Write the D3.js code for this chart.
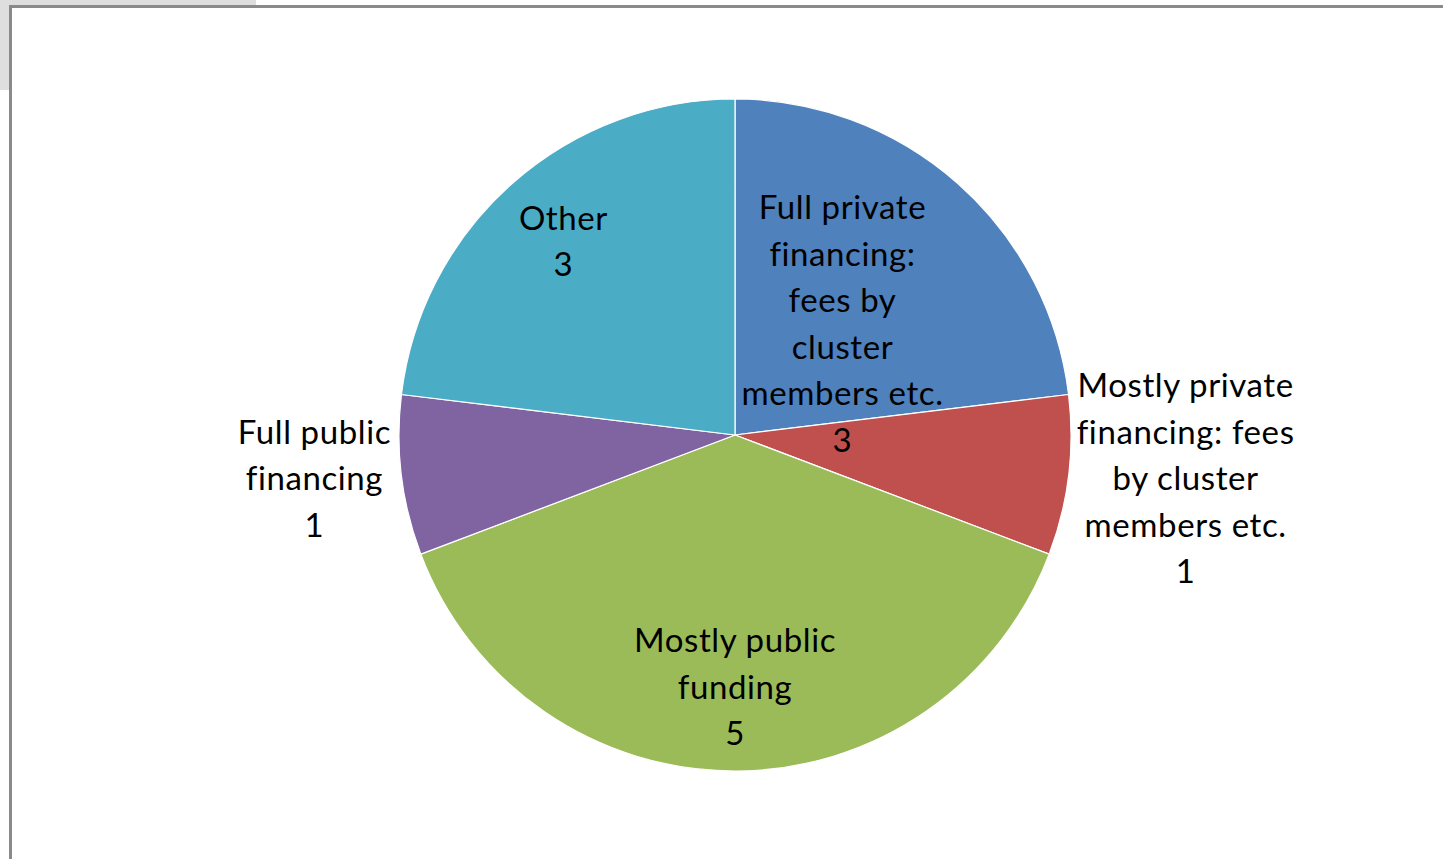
<!DOCTYPE html>
<html><head><meta charset="utf-8">
<script src="https://cdn.jsdelivr.net/npm/d3@7"></script>
<style>
html,body{margin:0;padding:0;background:#fff;overflow:hidden;}
svg{display:block;}
text{font-family:Lato,"Open Sans",sans-serif;fill:#000;}
</style></head>
<body>
<script>
// Data
const categories = [
  "Full private financing: fees by cluster members etc.",
  "Mostly private financing: fees by cluster members etc.",
  "Mostly public funding",
  "Full public financing",
  "Other"
];
const values = [3, 1, 5, 1, 3];
const labelLines = [
  ["Full private", "financing:", "fees by", "cluster", "members etc."],
  ["Mostly private", "financing: fees", "by cluster", "members etc."],
  ["Mostly public", "funding"],
  ["Full public", "financing"],
  ["Other"]
];
const colors = ["#4F81BD", "#C0504D", "#9BBB59", "#8064A2", "#4BACC6"];

// Layout config
const W = 1443, H = 859;
const cx = 735, cy = 435, R = 336;
const labelRadiusFactor = [0.46, 1.345, 0.75, 1.255, 0.77];
const labelNudge = [[5, 4.5], [2, -11], [0, 0], [-2, -7], [0, 0]];
const fontSize = 33, lineH = 46.5;

const svg = d3.select("body").append("svg").attr("width", W).attr("height", H);

// background frame
svg.append("rect").attr("x", 0).attr("y", 0).attr("width", 256).attr("height", 90).attr("fill", "#dedede");
svg.append("rect").attr("x", 10.5).attr("y", 6.5).attr("width", W).attr("height", H)
  .attr("fill", "#fff").attr("stroke", "#8a8a8a").attr("stroke-width", 3);

const data = categories.map((c, i) => ({name: c, value: values[i], lines: labelLines[i], color: colors[i], i}));

const pie = d3.pie().value(d => d.value).sort(null);
const arcs = pie(data);
const arc = d3.arc().innerRadius(0).outerRadius(R);

const g = svg.append("g").attr("transform", `translate(${cx},${cy})`);
g.selectAll("path.slice").data(arcs).join("path")
  .attr("class", "slice")
  .attr("d", arc)
  .attr("fill", d => d.data.color)
  .attr("stroke", "#fff").attr("stroke-width", 1.2).attr("stroke-linejoin", "round");

g.selectAll("text.lbl").data(arcs).join("text")
  .attr("class", "lbl")
  .attr("text-anchor", "middle")
  .attr("font-size", fontSize)
  .attr("letter-spacing", 0.6)
  .each(function(d) {
    const mid = (d.startAngle + d.endAngle) / 2;
    const r = R * labelRadiusFactor[d.data.i];
    const x = Math.sin(mid) * r + labelNudge[d.data.i][0];
    const y = -Math.cos(mid) * r + labelNudge[d.data.i][1];
    const lines = d.data.lines.concat([String(d.data.value)]);
    const n = lines.length;
    const t = d3.select(this);
    lines.forEach((ln, k) => {
      t.append("tspan").attr("x", x)
        .attr("y", y + (k - (n - 1) / 2) * lineH)
        .attr("dy", "0.35em")
        .text(ln);
    });
  });
</script>
</body></html>
